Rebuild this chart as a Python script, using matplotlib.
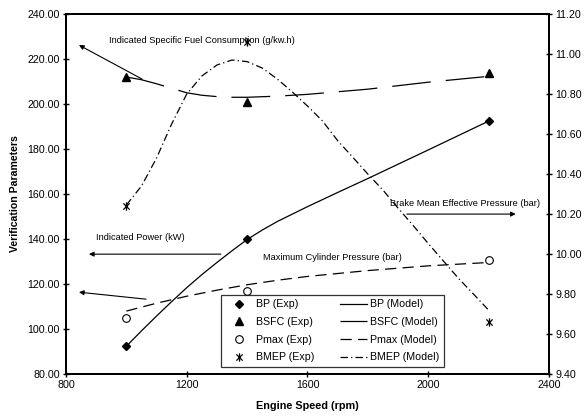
import numpy as np
import matplotlib.pyplot as plt
from matplotlib.path import Path

plt.rcParams['font.family'] = ['Liberation Sans', 'DejaVu Sans']

# experimental points
speed_exp = [1000, 1400, 2200]
bp_exp = [92.4, 140.0, 192.4]
bsfc_exp = [212.0, 200.9, 213.8]
pmax_exp = [104.9, 116.9, 130.5]
bmep_exp = [10.24, 11.06, 9.66]          # right axis (bar)

# model curves
speed_bp = [1000, 1050, 1100, 1150, 1200, 1250, 1300, 1350, 1400, 1450, 1500,
            1600, 1700, 1800, 2000, 2200]
bp_model = [92.4, 99.2, 105.8, 112.2, 118.4, 124.2, 129.6, 134.8, 139.8, 144.0, 147.8,
            154.4, 160.7, 166.9, 179.6, 192.4]

speed_bsfc = [1000, 1050, 1100, 1150, 1200, 1250, 1300, 1350, 1400, 1500, 1600,
              1800, 2000, 2200]
bsfc_model = [212.0, 210.8, 209.0, 207.0, 205.0, 203.9, 203.3, 203.0, 203.0, 203.5, 204.3,
              206.6, 209.7, 212.3]

speed_pmax = [1000, 1100, 1200, 1300, 1400, 1500, 1600, 1800, 2000, 2200]
pmax_model = [108.0, 111.5, 114.6, 117.3, 119.7, 121.7, 123.4, 126.0, 128.1, 129.6]

speed_bmep = [1000, 1050, 1100, 1150, 1200, 1250, 1300, 1350, 1400, 1450, 1500, 1550,
              1600, 1650, 1700, 1750, 1800, 1850, 1900, 1950, 2000, 2050, 2100, 2150, 2200]
bmep_model = [10.245, 10.34, 10.48, 10.65, 10.80, 10.89, 10.945, 10.97, 10.962, 10.93,
              10.875, 10.81, 10.74, 10.665, 10.567, 10.484, 10.40, 10.32, 10.23, 10.143,
              10.053, 9.966, 9.879, 9.80, 9.72]

# star marker like the excel one: X with a vertical bar
star = Path([(0, -1), (0, 1), (-0.75, -0.75), (0.75, 0.75), (-0.75, 0.75), (0.75, -0.75)],
            [Path.MOVETO, Path.LINETO] * 3)

fig = plt.figure(figsize=(5.84, 4.18), dpi=100)
ax = fig.add_axes([0.113, 0.105, 0.827, 0.8615])
ax2 = ax.twinx()

h1, = ax.plot(speed_exp, bp_exp, ls='none', marker='D', ms=4.5, color='black', label='BP (Exp)')
h2, = ax.plot(speed_exp, bsfc_exp, ls='none', marker='^', ms=6, color='black', label='BSFC (Exp)')
h3, = ax.plot(speed_exp, pmax_exp, ls='none', marker='o', ms=5.5, mfc='white', mec='black',
              mew=0.8, label='Pmax (Exp)')
h4, = ax2.plot(speed_exp, bmep_exp, ls='none', marker=star, ms=6, mec='black', mew=0.9,
               label='BMEP (Exp)')

m1, = ax.plot(speed_bp, bp_model, color='black', lw=0.9, label='BP (Model)')
m2, = ax.plot(speed_bsfc, bsfc_model, color='black', lw=0.9, dashes=(31, 12), label='BSFC (Model)')
m3, = ax.plot(speed_pmax, pmax_model, color='black', lw=0.9, dashes=(9, 5), label='Pmax (Model)')
m4, = ax2.plot(speed_bmep, bmep_model, color='black', lw=0.9, dashes=(6, 2.5, 1, 2.5),
               label='BMEP (Model)')

ax.set_xlim(800, 2400)
ax.set_ylim(80, 240)
ax2.set_ylim(9.4, 11.2)
ax.set_xticks(np.arange(800, 2401, 400))
ax.set_yticks(np.arange(80, 241, 20))
ax2.set_yticks(np.arange(9.4, 11.21, 0.2))
ax.yaxis.set_major_formatter(plt.FormatStrFormatter('%.2f'))
ax2.yaxis.set_major_formatter(plt.FormatStrFormatter('%.2f'))

for a in (ax, ax2):
    a.tick_params(direction='inout', length=5, width=1, labelsize=7.7, pad=2)
    for s in a.spines.values():
        s.set_linewidth(1.4)

ax.set_xlabel('Engine Speed (rpm)', fontsize=7.8, fontweight='bold', labelpad=8)
ax.set_ylabel('Verification Parameters', fontsize=7.6, fontweight='bold', labelpad=5)

# annotations
ax.text(1250, 228.4, 'Indicated Specific Fuel Consumption (g/kw.h)', fontsize=6.7,
        ha='center', va='center')
ax.text(2121, 156, 'Brake Mean Effective Pressure (bar)', fontsize=6.7, ha='center', va='center')
ax.text(1045, 140.9, 'Indicated Power (kW)', fontsize=6.7, ha='center', va='center')
ax.text(1684, 132, 'Maximum Cylinder Pressure (bar)', fontsize=6.7, ha='center', va='center')

arrow = dict(arrowstyle='-|>', color='black', lw=0.8, mutation_scale=7, shrinkA=0, shrinkB=0)
ax.annotate('', xy=(843, 226.2), xytext=(1052, 211.1), arrowprops=arrow)
ax.annotate('', xy=(2290, 151.1), xytext=(1929, 151.1), arrowprops=arrow)
ax.annotate('', xy=(876, 133.3), xytext=(1313, 133.3), arrowprops=arrow)
ax.annotate('', xy=(843, 116.4), xytext=(1065, 113.3), arrowprops=arrow)

leg = ax2.legend(handles=[h1, h2, h3, h4, m1, m2, m3, m4], ncol=2, fontsize=7.7,
                 loc='lower left', bbox_to_anchor=(0.321, 0.019, 0.462, 0.203), mode='expand',
                 frameon=True, fancybox=False, edgecolor='black', borderpad=0.45,
                 labelspacing=0.72, handlelength=2.5, handletextpad=0.3, columnspacing=1.0,
                 borderaxespad=0)
leg.get_frame().set_linewidth(0.9)

fig.savefig('out.png', dpi=100)
